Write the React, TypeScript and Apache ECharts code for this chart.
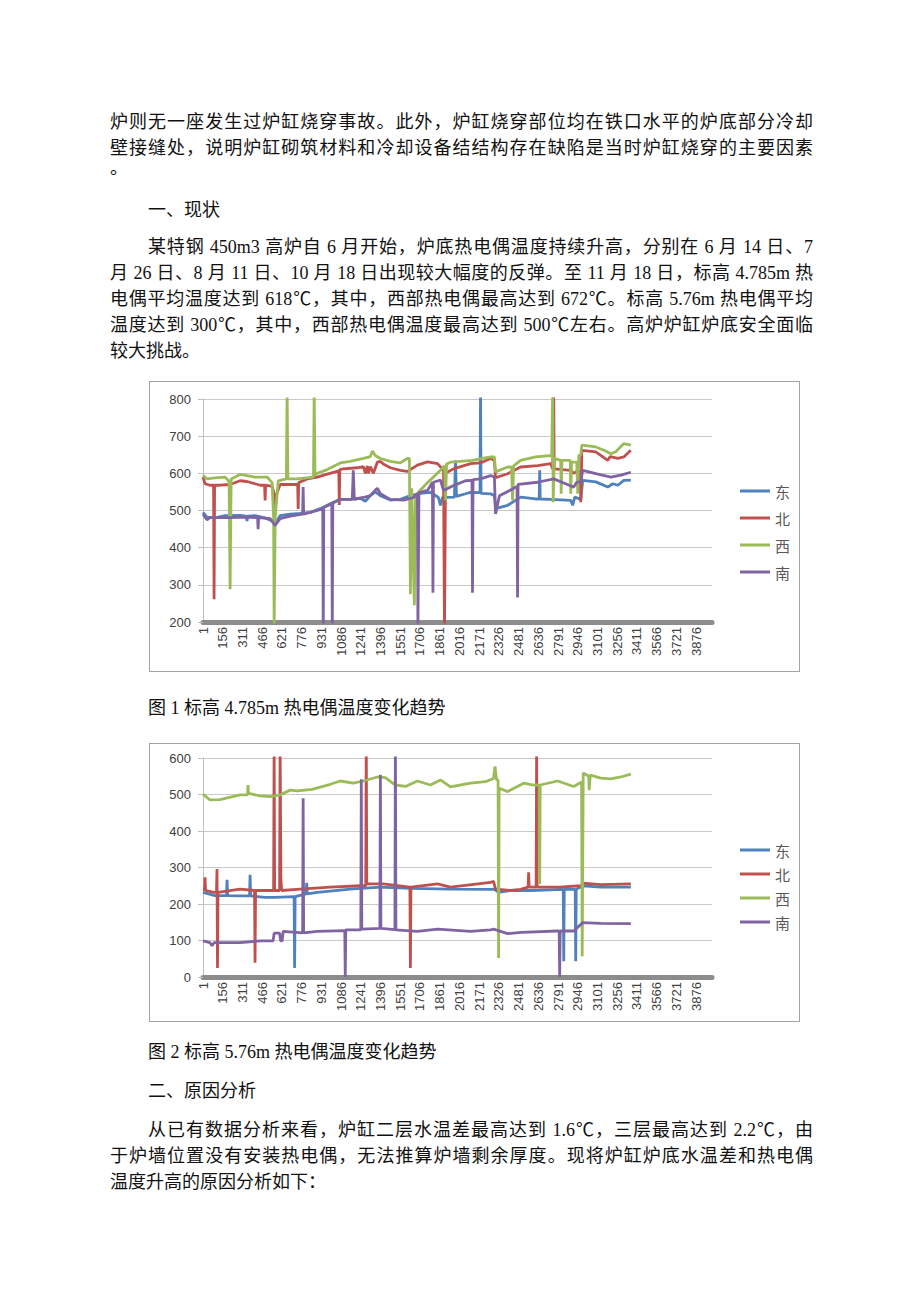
import React, { useEffect, useRef } from "react";
import * as echarts from "echarts";

type Pt = [number, number];

// legend names & colours
const seriesNames = ["东", "北", "西", "南"];
const seriesColors = ["#4F81BD", "#C0504D", "#9BBB59", "#8064A2"];

// x: sample index (row number - 1), y: temperature ℃
// Figure 1: elevation 4.785 m
const fig1East: Pt[] = [[0,495],[31,482],[94,480],[173,486],[291,487],[340,485],[346,472],[352,485],[409,486],[488,480],[543,472],[567,462],[591,478],[606,486],[685,490],[764,492],[843,495],[921,505],[1000,518],[1079,530],[1157,530],[1236,533],[1276,525],[1315,540],[1354,550],[1394,540],[1472,528],[1551,530],[1630,540],[1709,546],[1787,549],[1850,535],[1866,514],[1882,535],[1976,536],[1984,635],[1992,538],[2063,545],[2102,549],[2177,548],[2181,820],[2185,546],[2260,545],[2290,540],[2299,505],[2394,514],[2496,536],[2614,531],[2642,531],[2646,608],[2650,531],[2732,530],[2890,527],[2905,514],[2921,536],[2969,530],[2984,581],[3087,577],[3181,563],[3220,572],[3260,568],[3307,581],[3362,582]];
const fig1North: Pt[] = [[0,590],[16,572],[55,568],[83,568],[87,261],[91,568],[134,568],[213,570],[291,580],[346,578],[409,572],[449,568],[484,568],[488,527],[492,568],[543,565],[559,545],[567,500],[575,540],[606,570],[661,570],[744,570],[748,504],[752,575],[819,585],[898,590],[976,598],[1055,605],[1067,607],[1071,515],[1075,610],[1102,612],[1213,615],[1260,618],[1276,600],[1291,620],[1300,600],[1315,618],[1339,600],[1370,630],[1394,632],[1417,625],[1472,615],[1551,608],[1606,605],[1685,622],[1764,631],[1843,626],[1890,608],[1898,180],[1906,600],[1930,605],[1969,612],[2102,626],[2181,628],[2260,640],[2290,635],[2299,588],[2394,599],[2496,617],[2630,621],[2732,626],[2748,612],[2752,612],[2756,820],[2760,612],[2890,608],[2913,600],[2950,608],[2964,605],[2969,522],[2977,662],[3087,658],[3181,635],[3200,645],[3260,640],[3307,644],[3362,662]];
const fig1West: Pt[] = [[0,595],[31,585],[94,588],[173,590],[205,578],[213,288],[221,585],[291,597],[409,590],[504,590],[543,575],[555,480],[559,180],[563,180],[567,480],[591,580],[655,585],[661,820],[667,585],[740,585],[868,590],[874,820],[880,595],[898,600],[976,610],[1079,628],[1157,632],[1260,640],[1315,645],[1331,660],[1354,648],[1394,640],[1472,632],[1551,628],[1606,640],[1622,640],[1630,275],[1640,560],[1650,400],[1661,245],[1669,540],[1709,555],[1764,575],[1811,590],[1866,608],[1898,621],[1906,527],[1914,625],[1945,630],[2118,635],[2260,644],[2290,644],[2299,604],[2394,617],[2425,617],[2433,527],[2441,620],[2496,635],[2614,644],[2740,648],[2748,820],[2752,522],[2760,640],[2811,635],[2815,545],[2820,635],[2886,635],[2890,545],[2896,630],[2937,630],[2945,545],[2953,648],[2969,650],[2977,676],[3087,671],[3165,660],[3205,653],[3244,658],[3307,680],[3362,676]];
const fig1South: Pt[] = [[0,490],[31,475],[55,481],[213,481],[331,482],[429,481],[433,450],[437,481],[528,478],[567,460],[606,478],[685,485],[783,490],[787,563],[791,490],[898,500],[941,505],[945,180],[949,508],[1012,518],[1016,180],[1020,520],[1079,530],[1173,530],[1181,608],[1189,530],[1260,535],[1315,540],[1354,555],[1370,560],[1394,545],[1472,530],[1575,528],[1654,535],[1685,545],[1689,180],[1697,548],[1764,554],[1803,576],[1807,279],[1811,576],[1866,582],[1890,554],[1969,567],[2063,580],[2114,581],[2118,279],[2122,583],[2181,585],[2260,594],[2290,590],[2299,491],[2330,540],[2417,555],[2468,565],[2472,266],[2476,570],[2630,576],[2756,585],[2850,572],[2913,563],[2937,576],[2969,578],[2984,608],[3087,599],[3205,590],[3284,595],[3362,603]];

// Figure 2: elevation 5.76 m
const fig2East: Pt[] = [[0,232],[94,223],[185,223],[189,266],[193,223],[291,222],[366,222],[370,280],[374,222],[488,218],[567,218],[716,220],[720,25],[724,220],[811,228],[815,258],[819,228],[898,232],[1157,241],[1394,246],[1630,243],[1945,241],[2260,240],[2290,240],[2323,232],[2417,237],[2575,237],[2831,240],[2835,43],[2839,240],[2925,240],[2929,43],[2933,240],[2984,250],[3126,246],[3362,246]];
const fig2North: Pt[] = [[0,240],[12,240],[16,273],[20,237],[87,232],[106,232],[110,296],[114,25],[118,232],[291,241],[405,237],[409,39],[413,237],[555,237],[559,640],[563,237],[602,237],[606,640],[612,270],[618,237],[764,241],[1000,246],[1236,250],[1279,250],[1283,640],[1287,255],[1417,255],[1626,246],[1630,25],[1634,246],[1843,255],[1945,246],[2260,259],[2283,262],[2299,241],[2417,237],[2496,240],[2555,246],[2559,287],[2563,246],[2618,246],[2622,640],[2626,246],[2800,246],[2969,250],[2984,257],[3126,253],[3362,255]];
const fig2West: Pt[] = [[0,501],[55,485],[134,486],[291,499],[350,499],[354,526],[358,503],[449,496],[528,494],[606,499],[685,512],[740,510],[858,514],[1000,528],[1079,537],[1181,531],[1260,537],[1370,548],[1433,546],[1512,526],[1591,522],[1685,537],[1787,526],[1866,540],[1945,521],[2102,531],[2220,535],[2283,544],[2295,577],[2307,540],[2319,540],[2323,52],[2327,517],[2394,508],[2520,531],[2598,526],[2642,526],[2646,255],[2650,526],[2787,537],[2913,522],[2975,534],[2980,57],[2988,559],[3031,550],[3035,512],[3043,553],[3126,545],[3205,543],[3284,548],[3362,556]];
const fig2South: Pt[] = [[0,99],[55,94],[71,86],[87,94],[291,94],[449,99],[551,99],[559,120],[602,120],[610,99],[622,99],[630,125],[783,121],[787,490],[791,121],[898,125],[1114,127],[1118,0],[1122,129],[1240,129],[1244,542],[1248,131],[1390,133],[1394,554],[1398,133],[1508,130],[1512,640],[1516,129],[1685,125],[1843,131],[2102,125],[2260,129],[2283,131],[2394,119],[2500,122],[2787,126],[2799,126],[2803,0],[2807,126],[2913,126],[2984,149],[3126,147],[3362,146]];

// x axis: sample rows, tick every 155 rows
const xMax = 4000;
const xTickStep = 155;

function buildOption(
  data: Pt[][],
  yMin: number,
  yMax: number,
  gridTop: number,
  gridBottom: number,
  legendTop: number,
  legendGap: number
) {
  return {
    animation: false,
    grid: { left: 53, right: 87, top: gridTop, bottom: gridBottom, containLabel: false },
    xAxis: {
      type: "value",
      min: 0,
      max: xMax,
      interval: xTickStep,
      axisLine: { show: true, onZero: false, lineStyle: { color: "#8c8c8c", width: 5 } },
      axisTick: { show: false },
      splitLine: { show: false },
      axisLabel: {
        rotate: 90,
        margin: 5,
        showMaxLabel: false,
        color: "#404040",
        fontSize: 13,
        fontFamily: "Liberation Sans, Arial, sans-serif",
        formatter: (v: number) => String(v + 1),
      },
    },
    yAxis: {
      type: "value",
      min: yMin,
      max: yMax,
      interval: 100,
      axisLine: { show: true, lineStyle: { color: "#bfbfbf", width: 1 } },
      axisTick: { show: true, length: 5, lineStyle: { color: "#bfbfbf" } },
      splitLine: { show: true, lineStyle: { color: "#c9c9c9", width: 1 } },
      axisLabel: {
        margin: 12,
        color: "#404040",
        fontSize: 13,
        fontFamily: "Liberation Sans, Arial, sans-serif",
      },
    },
    legend: {
      orient: "vertical",
      left: 585,
      top: legendTop,
      itemGap: legendGap,
      itemWidth: 30,
      itemHeight: 3,
      icon: "rect",
      data: seriesNames,
      textStyle: {
        color: "#595959",
        fontSize: 15,
        lineHeight: 18,
        fontFamily: "Noto Sans CJK SC",
      },
    },
    series: data.map((d, i) => ({
      name: seriesNames[i],
      type: "line",
      data: d,
      color: seriesColors[i],
      showSymbol: false,
      symbol: "none",
      clip: true,
      lineStyle: { width: 2.8, color: seriesColors[i] },
    })),
  };
}

function Chart({ option, left, top, width, height }: any) {
  const ref = useRef<HTMLDivElement>(null);
  useEffect(() => {
    const c = echarts.init(ref.current!, null, { renderer: "svg" });
    c.setOption(option);
    return () => c.dispose();
  }, []);
  return (
    <div
      style={{
        position: "absolute",
        left,
        top,
        width: width - 2,
        height: height - 2,
        border: "1px solid #a3a3a3",
        background: "#fff",
      }}
    >
      <div ref={ref} style={{ width: width - 2, height: height - 2 }} />
    </div>
  );
}

const Line = ({ y, x = 110, w = 703, justify = false, children }: any) => (
  <div
    style={{
      position: "absolute",
      left: x,
      top: y - 13,
      width: w,
      height: 26,
      lineHeight: "26px",
      fontSize: 18,
      textAlign: justify ? "justify" : "left",
      textAlignLast: justify ? "justify" : "left",
      color: "#111",
    } as any}
  >
    {children}
  </div>
);

export default function App() {
  const opt1 = buildOption([fig1East, fig1North, fig1West, fig1South], 200, 800, 17, 49, 95, 9);
  const opt2 = buildOption([fig2East, fig2North, fig2West, fig2South], 0, 600, 14, 44, 92, 6);
  return (
    <div
      style={{
        position: "absolute",
        left: 0,
        top: 0,
        width: 920,
        height: 1302,
        background: "#fff",
        overflow: "hidden",
        fontFamily: '"Liberation Serif", "Noto Sans CJK SC", serif',
      }}
    >
      <Line y={122} justify>炉则无一座发生过炉缸烧穿事故。此外，炉缸烧穿部位均在铁口水平的炉底部分冷却</Line>
      <Line y={148} justify>壁接缝处，说明炉缸砌筑材料和冷却设备结结构存在缺陷是当时炉缸烧穿的主要因素</Line>
      <Line y={168}>。</Line>
      <Line y={210} x={148} w={400}>一、现状</Line>
      <Line y={247} x={148} w={665} justify>某特钢 450m3 高炉自 6 月开始，炉底热电偶温度持续升高，分别在 6 月 14 日、7</Line>
      <Line y={273} justify>月 26 日、8 月 11 日、10 月 18 日出现较大幅度的反弹。至 11 月 18 日，标高 4.785m 热</Line>
      <Line y={299} justify>电偶平均温度达到 618℃，其中，西部热电偶最高达到 672℃。标高 5.76m 热电偶平均</Line>
      <Line y={325} justify>温度达到 300℃，其中，西部热电偶温度最高达到 500℃左右。高炉炉缸炉底安全面临</Line>
      <Line y={351}>较大挑战。</Line>

      <Chart option={opt1} left={149} top={381} width={651} height={291} />
      <Line y={708} x={148} w={600}>图 1 标高 4.785m 热电偶温度变化趋势</Line>

      <Chart option={opt2} left={149} top={743} width={651} height={279} />
      <Line y={1052} x={148} w={600}>图 2 标高 5.76m 热电偶温度变化趋势</Line>

      <Line y={1091} x={148} w={400}>二、原因分析</Line>
      <Line y={1130} x={148} w={665} justify>从已有数据分析来看，炉缸二层水温差最高达到 1.6℃，三层最高达到 2.2℃，由</Line>
      <Line y={1156} justify>于炉墙位置没有安装热电偶，无法推算炉墙剩余厚度。现将炉缸炉底水温差和热电偶</Line>
      <Line y={1182}>温度升高的原因分析如下：</Line>
    </div>
  );
}
